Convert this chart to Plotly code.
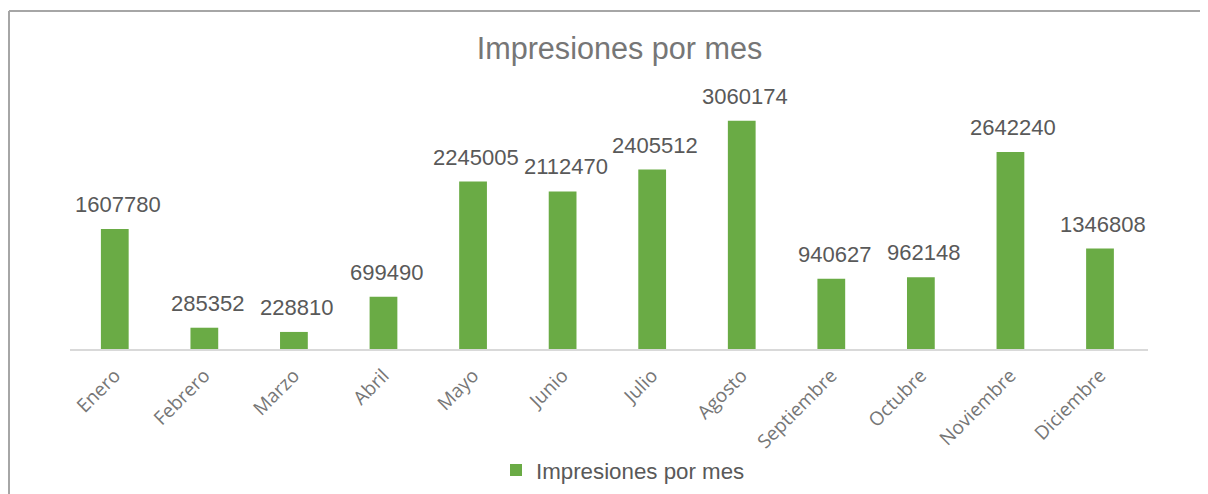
import plotly.graph_objects as go

meses = ["Enero", "Febrero", "Marzo", "Abril", "Mayo", "Junio", "Julio",
         "Agosto", "Septiembre", "Octubre", "Noviembre", "Diciembre"]
impresiones = [1607780, 285352, 228810, 699490, 2245005, 2112470, 2405512,
               3060174, 940627, 962148, 2642240, 1346808]
serie = "Impresiones por mes"

# page has an 8px body margin; figure is sized to fill the rest
OFF = 8
W, H = 1200, 486
ml, mr, mt, mb = 62, 60, 80, 145
pw = W - ml - mr
ph = H - mt - mb

def px_x(px):
    return (px - ml) / pw

def px_y(py):
    return (H - mb - py) / ph

fig = go.Figure()
fig.add_trace(go.Bar(
    x=meses, y=impresiones, name=serie,
    marker=dict(color="#6aab45", line=dict(width=0)),
    width=0.31,
    showlegend=True,
))

annotations = [
    dict(x=m, y=v, xref="x", yref="y", text=str(v), showarrow=False,
         yanchor="bottom", xanchor="center", yshift=10, xshift=3,
         font=dict(family="Liberation Sans, Arial, sans-serif", size=22, color="#595959"))
    for m, v in zip(meses, impresiones)
]

fig.update_layout(
    width=W, height=H,
    margin=dict(l=ml, r=mr, t=mt, b=mb, autoexpand=False),
    paper_bgcolor="white", plot_bgcolor="white",
    title=dict(text=serie, x=(619.5 - OFF) / W, xanchor="center",
               y=1 - (48 - OFF) / H, yanchor="middle",
               font=dict(family="Liberation Sans, Arial, sans-serif", size=30.6, color="#767676")),
    xaxis=dict(showline=True, linecolor="#d9d9d9", linewidth=2, showgrid=False,
               tickangle=-45, ticks="outside", ticklen=6, tickcolor="rgba(0,0,0,0)",
               tickfont=dict(family="Open Sans, sans-serif", size=19, color="#767676")),
    yaxis=dict(range=[0, 3500000], visible=False, showgrid=False),
    legend=dict(orientation="h", x=px_x(623 - OFF), xanchor="center",
                y=px_y(470 - OFF), yanchor="middle",
                font=dict(family="Liberation Sans, Arial, sans-serif", size=22.3, color="#595959"),
                itemwidth=30),
    bargap=0.69,
    annotations=annotations,
    shapes=[
        dict(type="line", xref="paper", yref="paper",
             x0=px_x(1), x1=px_x(1), y0=px_y(3), y1=px_y(520),
             line=dict(color="#a6a6a6", width=2)),
        dict(type="line", xref="paper", yref="paper",
             x0=px_x(1), x1=px_x(1230), y0=px_y(3), y1=px_y(3),
             line=dict(color="#a6a6a6", width=2)),
    ],
)

fig.write_html("out.html")
